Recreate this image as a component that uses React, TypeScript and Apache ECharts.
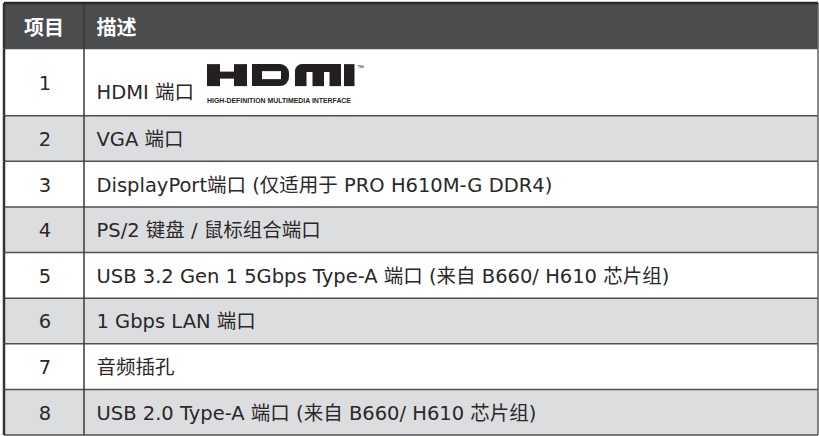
import React, { useEffect, useRef } from "react";
import * as echarts from "echarts";

const HEADERS = ["项目", "描述"];
const ITEMS = ["1", "2", "3", "4", "5", "6", "7", "8"];
const DESCRIPTIONS = [
  "HDMI 端口",
  "VGA 端口",
  "DisplayPort端口 (仅适用于 PRO H610M-G DDR4)",
  "PS/2 键盘 / 鼠标组合端口",
  "USB 3.2 Gen 1 5Gbps Type-A 端口 (来自 B660/ H610 芯片组)",
  "1 Gbps LAN 端口",
  "音频插孔",
  "USB 2.0 Type-A 端口 (来自 B660/ H610 芯片组)",
];
const LOGO_ROW = 0;
const LOGO_SUBTITLE = "HIGH-DEFINITION MULTIMEDIA INTERFACE";

const FONT = "'DejaVu Sans', 'Noto Sans CJK SC', sans-serif";
const HEAD_FONT = "'Noto Sans CJK SC', sans-serif";
const COL_SPLIT = 80 / 814;

function buildLogo(lx: number, ly: number) {
  const ink = "#231f20";
  const rect = (x: number, y: number, w: number, h: number, r: any = 0, fill = ink) => ({
    type: "rect",
    z2: 30,
    shape: { x: lx + x, y: ly + y, width: w, height: h, r },
    style: { fill },
  });
  return [
    // H
    rect(0, 0, 13, 22),
    rect(27, 0, 13, 22),
    rect(12, 7.5, 16, 7),
    // D
    rect(45, 0, 37, 22, [0, 9, 9, 0]),
    rect(55, 7, 19, 8, 0, "#ffffff"),
    // M
    rect(88, 0, 46, 8, [7, 0, 0, 0]),
    rect(88, 7, 11.5, 15),
    rect(105.5, 7, 11.5, 15),
    rect(122.5, 7, 11.5, 15),
    // I
    rect(137, 0, 10.5, 22),
    {
      type: "text",
      z2: 30,
      style: {
        text: "™",
        x: lx + 150,
        y: ly + 3,
        fill: ink,
        fontSize: 7,
        fontFamily: "Liberation Sans, Arial, sans-serif",
        verticalAlign: "middle",
      },
    },
    {
      type: "text",
      z2: 30,
      style: {
        text: LOGO_SUBTITLE,
        x: lx,
        y: ly + 36.5,
        fill: ink,
        fontSize: 6.9,
        fontWeight: "bold",
        fontFamily: "Liberation Sans, Arial, sans-serif",
        verticalAlign: "middle",
      },
    },
  ];
}

export default function App() {
  const ref = useRef<HTMLDivElement>(null);
  useEffect(() => {
    if (!ref.current) return;
    const chart = echarts.init(ref.current, undefined, { renderer: "svg" });

    const weights = [1, ...ITEMS.map((_, i) => (i === LOGO_ROW ? 1.47 : 1))];
    const data: number[][] = [];
    let acc = 0;
    weights.forEach((w, i) => {
      data.push([acc, acc + w, i - 1]);
      acc += w;
    });

    const renderItem = (params: any, api: any) => {
      const start = api.value(0);
      const end = api.value(1);
      const idx = api.value(2);
      const p0 = api.coord([0, start]);
      const p1 = api.coord([1, end]);
      const x0 = p0[0], y0 = p0[1], x1 = p1[0], y1 = p1[1];
      const divX = x0 + (x1 - x0) * COL_SPLIT;
      const isHeader = idx < 0;
      const bg = isHeader ? "#4b4c4e" : idx % 2 === 0 ? "#ffffff" : "#dcdddf";
      const children: any[] = [
        { type: "rect", z2: 0, shape: { x: x0, y: y0, width: x1 - x0, height: y1 - y0 }, style: { fill: bg } },
        { type: "line", z2: 10, shape: { x1: x0, y1: y1, x2: x1, y2: y1 }, style: { stroke: "#4e4f51", lineWidth: 1.5 } },
        { type: "line", z2: 11, shape: { x1: x0, y1: y0, x2: x0, y2: y1 }, style: { stroke: "#333333", lineWidth: 2.5 } },
        { type: "line", z2: 11, shape: { x1: divX, y1: y0, x2: divX, y2: y1 }, style: { stroke: "#3a3a3a", lineWidth: 1.5 } },
        { type: "line", z2: 11, shape: { x1: x1, y1: y0, x2: x1, y2: y1 }, style: { stroke: "#5e5f61", lineWidth: 1.5 } },
      ];
      if (isHeader) {
        children.push({ type: "line", z2: 12, shape: { x1: x0, y1: y0, x2: x1, y2: y0 }, style: { stroke: "#2a2a2a", lineWidth: 2.5 } });
        children.push({
          type: "text", z2: 20,
          style: { text: HEADERS[0], x: (x0 + divX) / 2, y: (y0 + y1) / 2 + 1, align: "center", verticalAlign: "middle", fill: "#ffffff", fontSize: 20, fontWeight: "bold", fontFamily: HEAD_FONT },
        });
        children.push({
          type: "text", z2: 20,
          style: { text: HEADERS[1], x: divX + 12.5, y: (y0 + y1) / 2 + 1, align: "left", verticalAlign: "middle", fill: "#ffffff", fontSize: 20, fontWeight: "bold", fontFamily: HEAD_FONT },
        });
      } else {
        const cy = (y0 + y1) / 2 + 1;
        const dy = idx === LOGO_ROW ? y0 + 44 : cy;
        children.push({
          type: "text", z2: 20,
          style: { text: ITEMS[idx], x: (x0 + divX) / 2 + 1, y: cy, align: "center", verticalAlign: "middle", fill: "#2b2829", fontSize: 19.5, fontFamily: FONT },
        });
        children.push({
          type: "text", z2: 20,
          style: { text: DESCRIPTIONS[idx], x: divX + 12.5, y: dy, align: "left", verticalAlign: "middle", fill: "#2b2829", fontSize: 19.5, fontFamily: FONT },
        });
        if (idx === LOGO_ROW) {
          children.push(...buildLogo(divX + 123, y0 + 15.5));
        }
      }
      return { type: "group", children };
    };

    chart.setOption({
      animation: false,
      grid: { left: 4, right: 1, top: 3, bottom: 1 },
      xAxis: { type: "value", min: 0, max: 1, show: false },
      yAxis: { type: "value", min: 0, max: acc, inverse: true, show: false },
      series: [
        {
          type: "custom",
          renderItem,
          data,
          silent: true,
          clip: false,
        },
      ],
    });
    return () => chart.dispose();
  }, []);
  return <div ref={ref} style={{ position: "absolute", left: 0, top: 0, width: 819, height: 436, background: "#ffffff" }} />;
}
